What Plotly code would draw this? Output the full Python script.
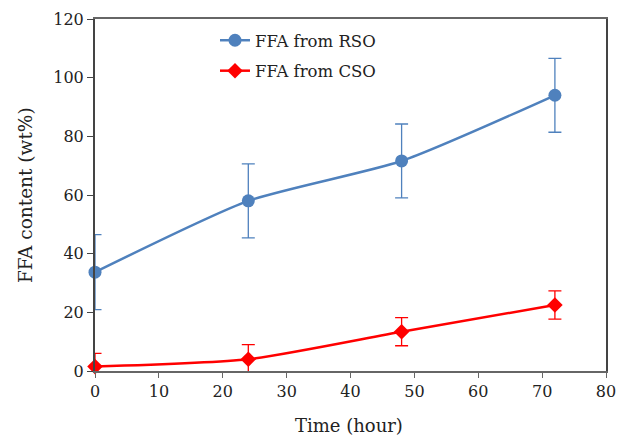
import plotly.graph_objects as go

time_h = [0, 24, 48, 72]
rso = [33.7, 58.0, 71.6, 94.0]
rso_err = [12.8, 12.6, 12.6, 12.6]
cso = [1.5, 4.0, 13.4, 22.5]
cso_err = [4.5, 5.0, 4.8, 4.8]

font_family = "DejaVu Serif"
OFF = 8  # page body margin offset
W, H = 625 - OFF, 437 - OFF
L, T = 95 - OFF, 19 - OFF
pw, ph = 511, 352
R, B = W - L - pw, H - T - ph

def px_x(x):  # window pixel -> paper x
    return (x - 95) / pw

def px_y(y):  # window pixel -> paper y
    return (371 - y) / ph

fig = go.Figure()
fig.add_trace(go.Scatter(
    x=time_h, y=rso, name="FFA from RSO", mode="lines+markers", legendgroup="a",
    cliponaxis=False,
    line=dict(color="#4F81BD", width=2.5, shape="spline", smoothing=0.6),
    marker=dict(symbol="circle", size=13, color="#4F81BD"),
    error_y=dict(type="data", array=rso_err, visible=True, color="#4F81BD", thickness=1.3, width=6.5),
))
fig.add_trace(go.Scatter(
    x=time_h, y=cso, name="FFA from CSO", mode="lines+markers", legendgroup="b",
    cliponaxis=False,
    line=dict(color="#FF0000", width=2.5, shape="spline", smoothing=0.6),
    marker=dict(symbol="diamond", size=12, color="#FF0000"),
    error_y=dict(type="data", array=cso_err, visible=True, color="#FF0000", thickness=1.3, width=6.5),
))

fig.update_layout(
    width=W, height=H,
    margin=dict(l=L, r=R, t=T, b=B, autoexpand=False),
    paper_bgcolor="white", plot_bgcolor="white",
    font=dict(family=font_family, size=16, color="#222"),
    showlegend=True,
    legend=dict(x=px_x(215), y=px_y(23), xanchor="left", yanchor="top",
                bgcolor="rgba(0,0,0,0)", font=dict(size=16.5),
                itemwidth=30, tracegroupgap=6),
    xaxis=dict(range=[0, 80], dtick=10, showgrid=False, zeroline=False, automargin=False,
               showline=True, linecolor="#666", linewidth=1.5, mirror=True,
               ticks="outside", ticklen=5, tickcolor="#666",
               tickfont=dict(size=16)),
    yaxis=dict(range=[0, 120], dtick=20, showgrid=False, zeroline=False, automargin=False,
               showline=True, linecolor="#444", linewidth=2, mirror=True,
               ticks="outside", ticklen=6, tickcolor="#444",
               tickfont=dict(size=16)),
    annotations=[
        dict(text="Time (hour)", xref="paper", yref="paper", x=px_x(349), y=px_y(425),
             xanchor="center", yanchor="middle", showarrow=False, font=dict(size=18)),
        dict(text="FFA content (wt%)", xref="paper", yref="paper", x=px_x(25), y=px_y(195),
             xanchor="center", yanchor="middle", textangle=-90, showarrow=False, font=dict(size=18.5)),
    ],
)
fig.write_html("out.html")
